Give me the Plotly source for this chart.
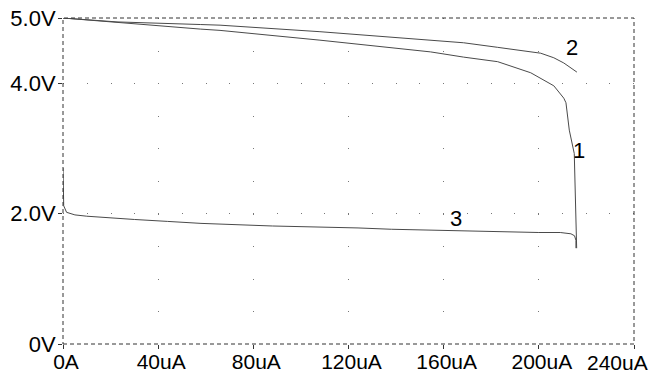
import plotly.graph_objects as go

# Sweep current (uA) and node voltages (V) for the three traces
i1 = [0, 22.7, 57.7, 66, 108, 154.5, 168.4, 182.7, 196.6, 206.3, 210.5, 211.4, 212.1, 212.8, 214.9, 215.2, 215.6, 215.9]
v1 = [5.0, 4.93, 4.83, 4.81, 4.66, 4.48, 4.40, 4.33, 4.16, 3.96, 3.77, 3.70, 3.43, 3.28, 2.92, 2.41, 1.67, 1.47]

i2 = [0, 22.7, 57.7, 66, 108, 154.5, 168.4, 182.7, 200.8, 206.3, 210.5, 216.0]
v2 = [5.0, 4.94, 4.90, 4.89, 4.79, 4.66, 4.62, 4.55, 4.46, 4.39, 4.31, 4.17]

i3 = [0, 0.3, 1.5, 5, 10, 20, 30, 44, 58, 88, 102, 124, 138, 159, 171, 192, 200, 209, 213.5, 215, 215.6, 215.6]
v3 = [2.70, 2.12, 2.02, 1.98, 1.96, 1.93, 1.91, 1.88, 1.85, 1.81, 1.80, 1.78, 1.76, 1.74, 1.73, 1.72, 1.71, 1.71, 1.69, 1.66, 1.59, 1.47]

x_ticks = [0, 40, 80, 120, 160, 200, 240]
x_labels = ["0A", "40uA", "80uA", "120uA", "160uA", "200uA", "240uA"]
y_ticks = [0, 2, 4, 5]
y_labels = ["0V", "2.0V", "4.0V", "5.0V"]

trace_labels = ["1", "2", "3"]
label_x = [216.8, 213.9, 165.0]
label_y = [2.97, 4.54, 1.93]

FONT = "Liberation Sans, Arial, sans-serif"
LINE = "#4a4a4a"
FS = 22
FSX = 21

fig = go.Figure()
for xs, ys in [(i1, v1), (i2, v2), (i3, v3)]:
    fig.add_trace(go.Scatter(x=xs, y=ys, mode="lines",
                             line=dict(color=LINE, width=1),
                             hoverinfo="skip", showlegend=False))

for t, x, y in zip(trace_labels, label_x, label_y):
    fig.add_annotation(x=x, y=y, text=t, showarrow=False,
                       font=dict(family=FONT, size=FS, color="#000"))

# the last x tick label is pulled left so it stays inside the page
fig.add_annotation(x=x_ticks[-1], xref="x", y=0, yref="paper",
                   text=x_labels[-1], showarrow=False,
                   xanchor="right", yanchor="middle", xshift=16, yshift=-18,
                   font=dict(family=FONT, size=FSX, color="#000"))

# dashed frame around the plotting area
fig.add_shape(type="rect", xref="paper", yref="paper", x0=0, y0=0, x1=1, y1=1,
              line=dict(color="#333", width=1, dash="4px,3px"), layer="above")

fig.update_layout(
    width=653, height=374,
    margin=dict(l=63, r=19, t=18, b=30),
    paper_bgcolor="white", plot_bgcolor="white",
    font=dict(family=FONT, size=FS, color="#000"),
    showlegend=False,
    xaxis=dict(range=[-0.0001, 240.0001], tickvals=x_ticks,
               ticktext=x_labels[:-1] + [""],
               tickfont=dict(size=FSX),
               showgrid=True, gridcolor="#777", gridwidth=1, griddash="1px,31.6px",
               zeroline=False, showline=False, automargin=False,
               ticks="outside", ticklen=4, tickcolor="#333",
               ticklabelstandoff=-5, ticklabelshift=3),
    yaxis=dict(range=[0, 5], tickvals=y_ticks, ticktext=y_labels,
               showgrid=True, gridcolor="#777", gridwidth=1, griddash="1px,22.75px",
               zeroline=False, showline=False, automargin=False,
               ticks="outside", ticklen=4, tickcolor="#333",
               ticklabelstandoff=-2),
)

fig.write_html("out.html")
